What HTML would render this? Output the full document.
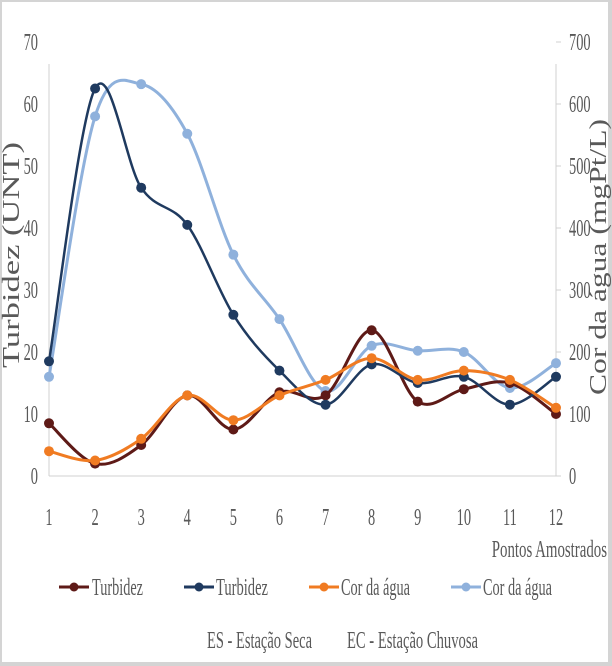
<!DOCTYPE html>
<html><head><meta charset="utf-8"><style>
html,body{margin:0;padding:0;background:#fff;}
svg{display:block;font-family:"Liberation Serif",serif;}
</style></head><body>
<svg id="chart" width="612" height="666" viewBox="0 0 612 666">
<rect x="0" y="0" width="612" height="666" fill="#fff"/>
<rect x="1" y="1" width="608" height="662" fill="none" stroke="#d4d4d4" stroke-width="2"/>
<rect x="0" y="662" width="612" height="4" fill="#d4d4d4"/>
<rect x="608" y="0" width="4" height="666" fill="#d4d4d4"/>
<g id="axes"></g>
<g id="series"></g>
<g id="legend"></g>
</svg>
<script>
const categories=[1,2,3,4,5,6,7,8,9,10,11,12];
const turbidezES=[8.5,2,5,13,7.5,13.5,13,23.5,12,14,15,10];
const turbidezEC=[18.5,62.5,46.5,40.5,26,17,11.5,18,15,16,11.5,16];
const corES=[40,25,60,130,90,130,155,190,155,170,155,110];
const corEC=[160,580,632,552,357,253,137,210,202,200,142,182];
const leftTicks=[0,10,20,30,40,50,60,70];
const rightTicks=[0,100,200,300,400,500,600,700];

const NS="http://www.w3.org/2000/svg";
const X0=49,X1=556,Y0=476,Y1=42;
const xs=i=>X0+(X1-X0)*i/(categories.length-1);
const yL=v=>Y0-(Y0-Y1)*v/70;
const yR=v=>Y0-(Y0-Y1)*v/700;
function mk(tag,attrs,parent){const e=document.createElementNS(NS,tag);for(const k in attrs)e.setAttribute(k,attrs[k]);parent.appendChild(e);return e;}
const axes=document.getElementById('axes');
function txt(s,x,y,anchor,sx,parent,fs){
  const g=mk('g',{transform:`translate(${x},${y}) scale(${sx},1)`},parent);
  const t=mk('text',{x:0,y:0,'text-anchor':anchor,'font-size':fs||24,fill:'#595959'},g);
  t.textContent=s;return t;
}
let l=mk('line',{x1:X0,y1:Y1+22,x2:X0,y2:Y0,stroke:'#d0d0d0','stroke-width':1},axes);

l=mk('line',{x1:X1,y1:Y1+22,x2:X1,y2:Y0,stroke:'#d0d0d0','stroke-width':1},axes);

l=mk('line',{x1:X0,y1:Y0,x2:X1,y2:Y0,stroke:'#d0d0d0','stroke-width':1},axes);

leftTicks.forEach(v=>{
  const t=txt(String(v),38,yL(v)+8,'end',0.6,axes);
  
});
rightTicks.forEach(v=>{
  const tk=mk('line',{x1:X1,y1:yR(v),x2:X1+5,y2:yR(v),stroke:'#d0d0d0'},axes);
  
  const t=txt(String(v),569,yR(v)+8,'start',0.6,axes);
  
});
categories.forEach((c,i)=>{
  const t=txt(String(c),xs(i),525,'middle',0.6,axes);
  
});
let t=txt('Pontos Amostrados',607,557,'end',0.62,axes,24);

let g=mk('g',{transform:'translate(19,255) rotate(-90)'},axes);
t=mk('text',{x:0,y:0,'text-anchor':'middle','font-size':24,fill:'#595959',textLength:226,lengthAdjust:'spacingAndGlyphs'},g);
t.textContent='Turbidez (UNT)';
g=mk('g',{transform:'translate(606,257) rotate(-90)'},axes);
t=mk('text',{x:0,y:0,'text-anchor':'middle','font-size':24,fill:'#595959',textLength:276,lengthAdjust:'spacingAndGlyphs'},g);
t.textContent='Cor da água (mgPt/L)';

function smooth(pts){
  let d=`M${pts[0][0]},${pts[0][1]}`;
  for(let i=0;i<pts.length-1;i++){
    const p0=pts[Math.max(0,i-1)],p1=pts[i],p2=pts[i+1],p3=pts[Math.min(pts.length-1,i+2)];
    const k=1/6;
    d+=` C${p1[0]+(p2[0]-p0[0])*k},${p1[1]+(p2[1]-p0[1])*k} ${p2[0]-(p3[0]-p1[0])*k},${p2[1]-(p3[1]-p1[1])*k} ${p2[0]},${p2[1]}`;
  }
  return d;
}
const series=document.getElementById('series');
function draw(vals,yf,color,w,name){
  const pts=vals.map((v,i)=>[xs(i),yf(v)]);
  const p=mk('path',{d:smooth(pts),fill:'none',stroke:color,'stroke-width':w},series);
  
  pts.forEach(q=>{const c=mk('circle',{cx:q[0],cy:q[1],r:5,fill:color},series);
    });
}
draw(corEC,yR,'#8fb1dc',3,'cor-ec');
draw(turbidezES,yL,'#5e1a17',3,'turbidez-es');
draw(turbidezEC,yL,'#1f3a5f',2.5,'turbidez-ec');
draw(corES,yR,'#f07b22',3,'cor-es');

const legend=document.getElementById('legend');
const entries=[['Turbidez','#5e1a17',59,92,51],['Turbidez','#1f3a5f',184,216,52],['Cor da água','#f07b22',309,341,69],['Cor da água','#8fb1dc',451,483,69]];
entries.forEach(e=>{
  const ln=mk('line',{x1:e[2],y1:587,x2:e[2]+30,y2:587,stroke:e[1],'stroke-width':3},legend);
  
  const c=mk('circle',{cx:e[2]+15,cy:587,r:4.5,fill:e[1]},legend);
  
  const tx=mk('text',{x:e[3],y:595,'font-size':24,fill:'#595959',textLength:e[4],lengthAdjust:'spacingAndGlyphs'},legend);
  tx.textContent=e[0];
});
t=mk('text',{x:207,y:648,'font-size':24,fill:'#595959',textLength:105,lengthAdjust:'spacingAndGlyphs'},legend);
t.textContent='ES - Estação Seca';
t=mk('text',{x:347,y:648,'font-size':24,fill:'#595959',textLength:131,lengthAdjust:'spacingAndGlyphs'},legend);
t.textContent='EC - Estação Chuvosa';
</script>
</body></html>
